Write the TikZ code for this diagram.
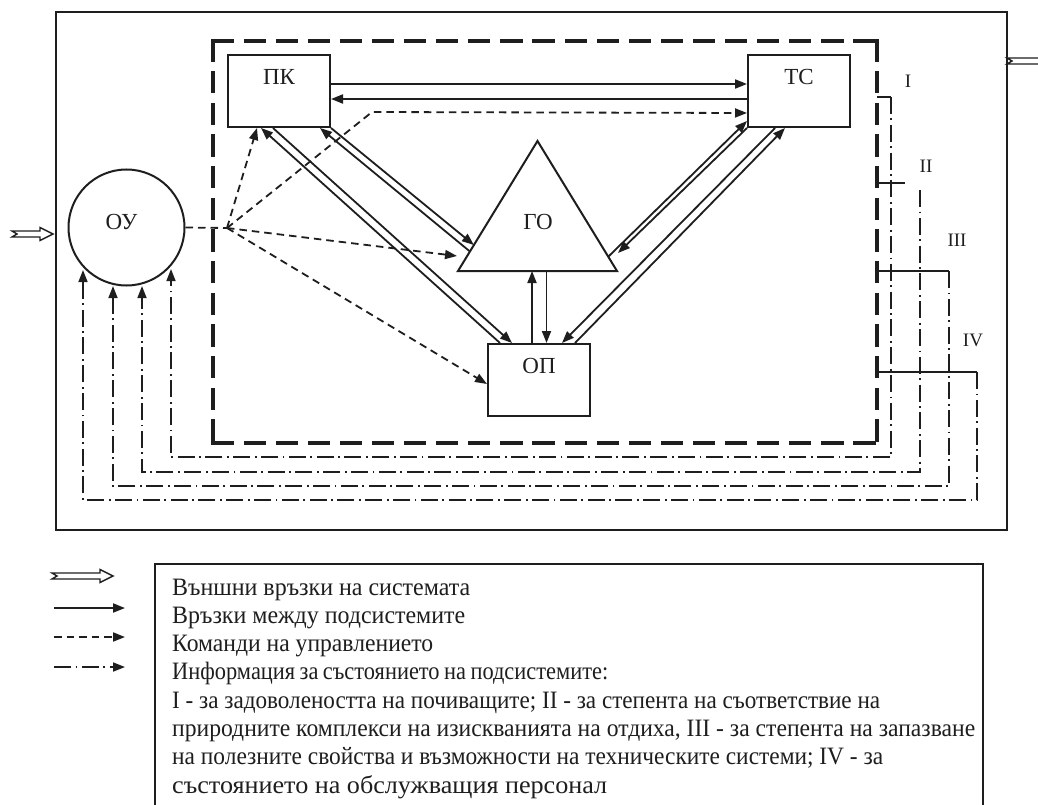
\documentclass[tikz,border=0pt]{standalone}
\usepackage{fontspec}
\usepackage{graphicx}
\setmainfont{Liberation Serif}
\usetikzlibrary{arrows.meta,calc}
\definecolor{ink}{HTML}{1E1E1E}
\tikzset{
  pics/extarrow/.style={code={
    \draw[line width=1.4pt, fill=white, line join=miter]
      (0,-3) -- ({#1-13},-3) -- ({#1-13},-6.5) -- (#1,0) -- ({#1-13},6.5)
      -- ({#1-13},3) -- (0,3) -- (5,0) -- cycle;
  }}
}
\newcommand{\legline}[2]{\resizebox{#1pt}{\height}{#2}}
\begin{document}
\begin{tikzpicture}[x=1pt,y=-1pt,color=ink,
  box/.style={draw, line width=2pt, rectangle, minimum width=102pt, minimum height=72pt, inner sep=0pt, anchor=north west},
  lbl/.style={font=\fontsize{23}{25}\selectfont, inner sep=0pt},
  num/.style={font=\fontsize{19}{21}\selectfont, inner sep=0pt},
  legtxt/.style={font=\fontsize{25}{28}\selectfont, inner sep=0pt, anchor=base west},
  tip/.style={-{Triangle[length=12pt,width=9pt]}},
  conn/.style={line width=1.8pt, tip},
  solidln/.style={line width=1.8pt},
  cmdln/.style={line width=1.8pt, dash pattern=on 7.5pt off 5pt},
  cmd/.style={cmdln, tip},
  info/.style={line width=1.7pt, dash pattern=on 17pt off 4.5pt on 1.8pt off 4.5pt, tip},
  sysv/.style={line width=3.2pt, line cap=rect, dash pattern=on 19pt off 12.67pt},
  sysh/.style={line width=3.2pt, line cap=rect, dash pattern=on 19pt off 13.1pt}
]
\useasboundingbox (0,0) rectangle (1038,805);
\clip (0,0) rectangle (1038,805);

% environment box
\node[draw, line width=2.2pt, minimum width=951pt, minimum height=518pt, anchor=north west, inner sep=0pt] (env) at (55,11) {};

% system (dashed) box
\coordinate (s1) at (213,41);
\coordinate (s2) at (877,41);
\coordinate (s3) at (877,443);
\coordinate (s4) at (213,443);
\draw[sysv] (s1) -- (s4);
\draw[sysv] (s2) -- (s3);
\draw[sysh] (s1) -- (s2);
\draw[sysh] (s4) -- (s3);

% subsystems
\node[box] (pk) at (227,54) {};
\node[box] (tc) at (747,54) {};
\node[box] (op) at (487,343) {};
\node[lbl] (pkt) at ($(pk.north)+(0,23)$) {ПК};
\node[lbl] (tct) at ($(tc.north)+(0,23)$) {ТС};
\node[lbl] (opt) at ($(op.north)+(0,23)$) {ОП};

\node[draw, circle, line width=2pt, minimum size=116pt, inner sep=0pt] (ou) at (126.5,227.5) {};
\node[lbl] (out) at ($(ou.center)+(-5,-6)$) {ОУ};

\coordinate (goT) at (537.5,141);
\coordinate (goL) at (458,271);
\coordinate (goR) at (617,271);
\draw[line width=2pt, line join=miter] (goT) -- (goL) -- (goR) -- cycle;
\node[lbl] (go) at (538,222) {ГО};

% external arrows
\pic at (12,234) {extarrow=41};
\pic at (1007,61) {extarrow=45};

% links between subsystems
\draw[conn] ($(pk.east)+(0,-7)$) -- ($(tc.west)+(0,-7)$);
\draw[conn] ($(tc.west)+(0,8)$) -- ($(pk.east)+(0,8)$);

\draw[conn] (pk.south east) -- ($(goL)!0.2!(goT)$);
\draw[conn] ($(goL)!0.15!(goT)$) -- ($(pk.south east)+(-11,0)$);

\draw[conn] ($(pk.south west)+(46,0)$) -- ($(op.north west)+(25,0)$);
\draw[conn] ($(op.north west)+(13,0)$) -- ($(pk.south west)+(34,0)$);

\draw[conn] ($(goR)!0.11!(goT)$) -- ($(tc.south west)+(0,-7)$);
\draw[conn] (tc.south west) -- ($(goR)+(1,-18)$);

\draw[conn] ($(tc.south west)+(28,0)$) -- ($(op.north west)+(75,0)$);
\draw[conn] ($(op.north west)+(88,0)$) -- ($(tc.south west)+(38,0)$);

\coordinate (e1) at ($(op.north)+(-7,0)$);
\coordinate (e2) at ($(op.north)+(7.5,0)$);
\draw[conn] (e1) -- (e1 |- goL);
\draw[conn] (e2 |- goL) -- (e2);

% control commands
\coordinate (hub) at (227,228);
\coordinate (bend) at (372,112);
\coordinate (goCmd) at ($(goL)+(-1,-15)$);
\draw[cmdln] (ou.east) -- (hub);
\draw[cmd] (hub) -- (bend) -- ($(tc.west)+(0,22)$);
\draw[cmd] (hub) -- ($(pk.south west)+(30,0)$);
\draw[cmd] (hub) -- (goCmd);
\draw[cmd] (hub) -- ($(op.west)+(0,4)$);

% state information feedback
\coordinate (tI) at (877,97);    \coordinate (cI) at (891,97);
\coordinate (kI) at (171,457);   \coordinate (aI) at (171,269);
\coordinate (tII) at (877,183);  \coordinate (eII) at (905,183);
\coordinate (cII) at (920,190);
\coordinate (kII) at (142,472);  \coordinate (aII) at (142,286);
\coordinate (tIII) at (877,271); \coordinate (cIII) at (949,271);
\coordinate (kIII) at (113,486); \coordinate (aIII) at (113,286);
\coordinate (tIV) at (877,372);  \coordinate (cIV) at (977,372);
\coordinate (kIV) at (83,500);   \coordinate (aIV) at (83,270);

\draw[solidln] (tI) -- (cI);
\draw[solidln] (tII) -- (eII);
\draw[solidln] (tIII) -- (cIII);
\draw[solidln] (tIV) -- (cIV);
\draw[info] (cI) |- (kI) -- (aI);
\draw[info] (cII) |- (kII) -- (aII);
\draw[info] (cIII) |- (kIII) -- (aIII);
\draw[info] (cIV) |- (kIV) -- (aIV);

\node[num] (nI) at (908,81) {I};
\node[num] (nII) at (926,166) {II};
\node[num] (nIII) at (957,240) {III};
\node[num] (nIV) at (973,340) {IV};

% legend
\draw[line width=2pt] (155,564) rectangle (983,830);
\pic at (52,576) {extarrow=61};
\coordinate (la1) at (54,608);  \coordinate (lb1) at (125,608);
\coordinate (la2) at (54,637);  \coordinate (lb2) at (125,637);
\coordinate (la3) at (54,667);  \coordinate (lb3) at (125,667);
\draw[conn] (la1) -- (lb1);
\draw[cmd] (la2) -- (lb2);
\draw[info] (la3) -- (lb3);

\node[legtxt] (t1) at (172,595) {\legline{298}{Външни връзки на системата}};
\node[legtxt] (t2) at (172,623.3) {\legline{293}{Връзки между подсистемите}};
\node[legtxt] (t3) at (172,651.6) {\legline{261}{Команди на управлението}};
\node[legtxt] (t4) at (172,679.9) {\legline{436}{\spaceskip=0.2em\relax Информация за състоянието на подсистемите:}};
\node[legtxt] (t5) at (172,708.2) {\legline{708}{I - за задоволеността на почиващите; II - за степента на съответствие на}};
\node[legtxt] (t6) at (172,736.5) {\legline{803}{природните комплекси на изискванията на отдиха, III - за степента на запазване}};
\node[legtxt] (t7) at (172,764.8) {\legline{711}{на полезните свойства и възможности на техническите системи; IV - за}};
\node[legtxt] (t8) at (172,793.1) {\legline{435}{състоянието на обслужващия персонал}};
\end{tikzpicture}
\end{document}
